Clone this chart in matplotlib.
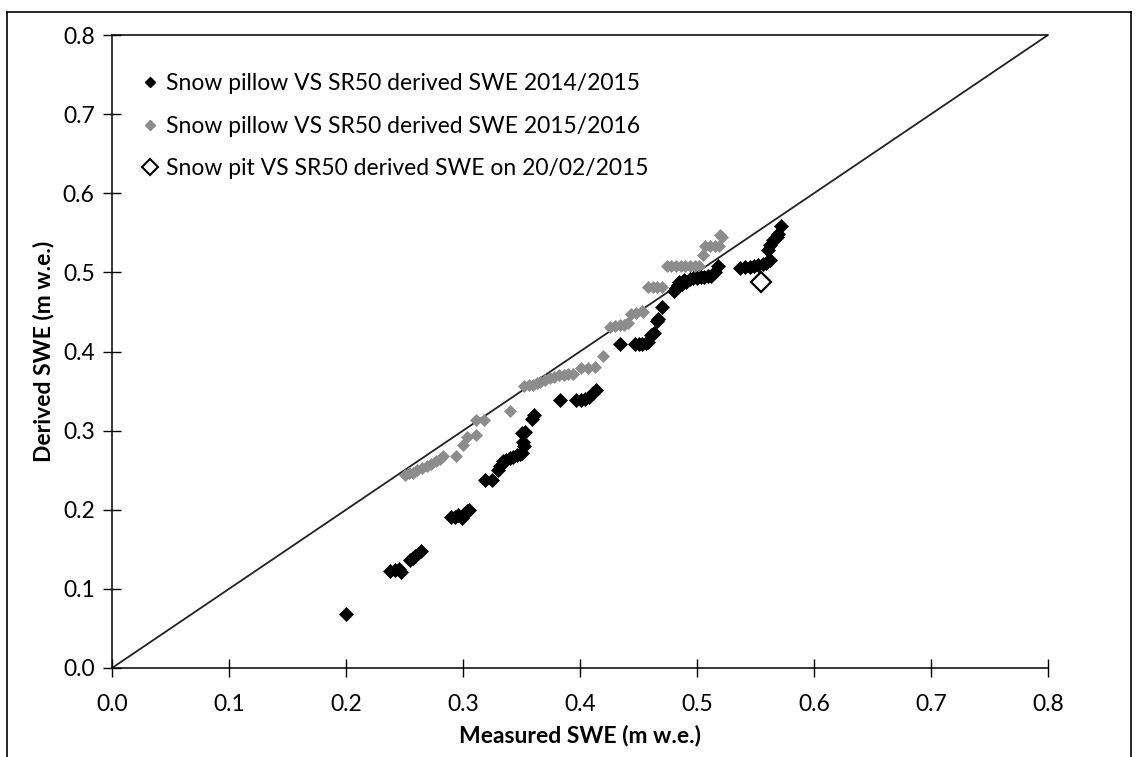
import matplotlib
matplotlib.use("Agg")
import matplotlib.pyplot as plt
from matplotlib.lines import Line2D

plt.rcParams['font.family'] = ['Lato', 'DejaVu Sans']

# 2014/2015 snow pillow vs SR50 derived SWE
x_1415 = [0.200, 0.238, 0.242, 0.245, 0.247, 0.255, 0.257, 0.259, 0.264, 0.290,
          0.293, 0.296, 0.299, 0.301, 0.303, 0.305, 0.319, 0.325, 0.330, 0.332,
          0.334, 0.337, 0.340, 0.343, 0.346, 0.349, 0.350, 0.352, 0.351, 0.350,
          0.353, 0.359, 0.361, 0.383, 0.397, 0.401, 0.404, 0.408, 0.411, 0.414,
          0.434, 0.447, 0.450, 0.453, 0.456, 0.458, 0.461, 0.463, 0.466, 0.467,
          0.470, 0.480, 0.482, 0.484, 0.485, 0.487, 0.489, 0.491, 0.494, 0.497,
          0.500, 0.503, 0.506, 0.509, 0.512, 0.515, 0.518, 0.537, 0.541, 0.545,
          0.549, 0.552, 0.556, 0.559, 0.562, 0.561, 0.562, 0.565, 0.568, 0.569,
          0.572]
y_1415 = [0.068, 0.122, 0.124, 0.125, 0.121, 0.137, 0.139, 0.141, 0.148, 0.191,
          0.191, 0.193, 0.190, 0.195, 0.199, 0.200, 0.238, 0.238, 0.250, 0.255,
          0.261, 0.263, 0.265, 0.267, 0.269, 0.271, 0.272, 0.280, 0.286, 0.297,
          0.298, 0.315, 0.320, 0.339, 0.339, 0.339, 0.340, 0.343, 0.347, 0.351,
          0.410, 0.410, 0.410, 0.410, 0.411, 0.412, 0.421, 0.424, 0.438, 0.441,
          0.456, 0.476, 0.480, 0.484, 0.488, 0.485, 0.490, 0.488, 0.491, 0.493,
          0.493, 0.494, 0.494, 0.495, 0.496, 0.501, 0.508, 0.506, 0.507, 0.507,
          0.508, 0.509, 0.510, 0.512, 0.516, 0.528, 0.535, 0.541, 0.545, 0.549,
          0.558]

# 2015/2016 snow pillow vs SR50 derived SWE
x_1516 = [0.250, 0.254, 0.257, 0.261, 0.265, 0.269, 0.273, 0.277, 0.280, 0.283,
          0.294, 0.300, 0.303, 0.311, 0.311, 0.318, 0.340, 0.352, 0.356, 0.360,
          0.363, 0.366, 0.370, 0.374, 0.378, 0.382, 0.386, 0.390, 0.394, 0.401,
          0.407, 0.413, 0.420, 0.426, 0.430, 0.434, 0.438, 0.441, 0.444, 0.448,
          0.453, 0.454, 0.458, 0.462, 0.466, 0.470, 0.474, 0.478, 0.482, 0.486,
          0.490, 0.494, 0.498, 0.502, 0.505, 0.507, 0.511, 0.515, 0.519, 0.520,
          0.521]
y_1516 = [0.244, 0.246, 0.247, 0.250, 0.253, 0.255, 0.258, 0.261, 0.264, 0.268,
          0.268, 0.282, 0.292, 0.295, 0.314, 0.314, 0.325, 0.357, 0.358, 0.358,
          0.360, 0.362, 0.364, 0.366, 0.368, 0.370, 0.370, 0.371, 0.372, 0.379,
          0.379, 0.380, 0.394, 0.431, 0.432, 0.433, 0.434, 0.436, 0.448, 0.449,
          0.451, 0.450, 0.481, 0.481, 0.481, 0.481, 0.508, 0.508, 0.508, 0.508,
          0.508, 0.508, 0.508, 0.508, 0.522, 0.533, 0.533, 0.533, 0.533, 0.547,
          0.545]

# Snow pit
x_pit = [0.555]
y_pit = [0.488]

labels = ["Snow pillow VS SR50 derived SWE 2014/2015",
          "Snow pillow VS SR50 derived SWE 2015/2016",
          "Snow pit VS SR50 derived SWE on 20/02/2015"]
ticks = [0.0, 0.1, 0.2, 0.3, 0.4, 0.5, 0.6, 0.7, 0.8]

fig = plt.figure(figsize=(11.38, 7.57), dpi=100)
W, H = 1138, 757
ax = fig.add_axes([112 / W, 1 - 668 / H, (1048 - 112) / W, (668 - 35) / H])

# outer frame
for xs, ys in [([7 / W, 7 / W], [0, 1 - 12 / H]),
               ([7 / W, 1131 / W], [1 - 12 / H, 1 - 12 / H]),
               ([1131 / W, 1131 / W], [0, 1 - 12 / H])]:
    fig.add_artist(Line2D(xs, ys, color='black', lw=1.2, transform=fig.transFigure))

ax.plot([0, 0.8], [0, 0.8], color='#222222', lw=1.3, zorder=1)
ax.plot(x_1415, y_1415, 'D', color='black', ms=7, mec='black', mew=0.5,
        linestyle='none', zorder=3)
ax.plot(x_1516, y_1516, 'D', color='#8c8c8c', ms=6.5, mec='#8c8c8c', mew=0.5,
        linestyle='none', zorder=2)
ax.plot(x_pit, y_pit, 'D', mfc='white', mec='black', ms=10, mew=1.6,
        linestyle='none', zorder=4)

ax.set_xlim(0, 0.8)
ax.set_ylim(0, 0.8)
ax.set_xticks(ticks)
ax.set_yticks(ticks)
ax.set_xticklabels([f"{t:.1f}" for t in ticks])
ax.set_yticklabels([f"{t:.1f}" for t in ticks])
ax.tick_params(direction='inout', length=13, width=1, labelsize=16.5, pad=6)
ax.tick_params(axis='x', pad=12)
for s in ['left', 'bottom', 'top']:
    ax.spines[s].set_linewidth(1.1)
ax.spines['right'].set_visible(False)

ax.set_xlabel("Measured SWE (m w.e.)", fontsize=16.5, fontweight='bold', labelpad=7)
ax.set_ylabel("Derived SWE (m w.e.)", fontsize=16.5, fontweight='bold', labelpad=6)

handles = [Line2D([], [], marker='D', color='black', ms=5, linestyle='none'),
           Line2D([], [], marker='D', color='#8c8c8c', ms=5, linestyle='none'),
           Line2D([], [], marker='D', mfc='white', mec='black', ms=8, mew=1.5,
                  linestyle='none')]
ax.legend(handles, labels, loc='upper left', bbox_to_anchor=(0.014, 0.962),
          frameon=False, fontsize=16.5, handletextpad=0.2, labelspacing=0.95,
          handlelength=1.0, borderaxespad=0.2)

fig.savefig("out.png", dpi=100)
